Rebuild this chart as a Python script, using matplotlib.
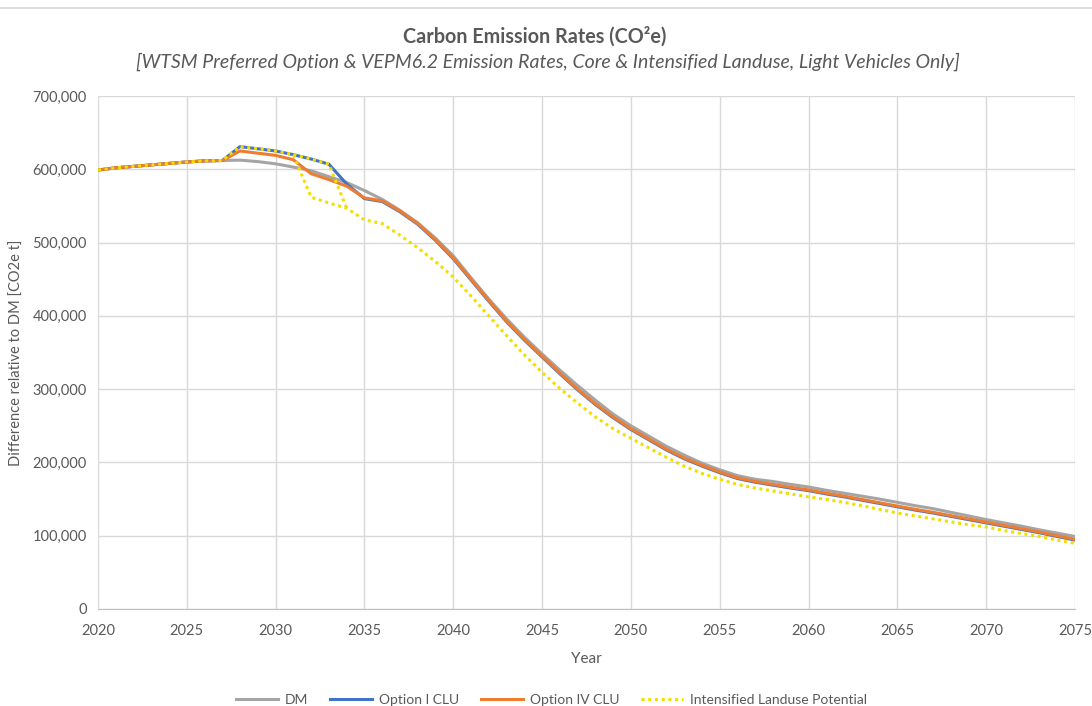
import matplotlib
matplotlib.use("Agg")
import matplotlib.pyplot as plt
from matplotlib.lines import Line2D
from matplotlib.ticker import FuncFormatter, MultipleLocator

plt.rcParams['font.family'] = ['Lato', 'DejaVu Sans']

# annual values, tonnes CO2e
years = list(range(2020, 2076))

dm = [599000, 602000, 604000, 606000, 608000, 610000, 611500, 612000, 612500, 610500,
      607500, 603000, 598000, 590000, 582000, 571000, 559000, 544000, 527000, 506000,
      482000, 452000, 423000, 396000, 371000, 348000, 326000, 305000, 285000, 266000,
      250000, 236000, 222000, 210000, 199000, 190000, 182000, 177000, 174000, 170000,
      166500, 162000, 158000, 154000, 150000, 145500, 141000, 137000, 132000, 127000,
      122000, 117500, 113000, 108000, 103500, 99000]

option_i = [599000, 602000, 604000, 606000, 608000, 610000, 611500, 612000, 631000, 628000,
            625000, 620000, 614000, 607000, 580000, 560000, 556000, 542000, 525000, 503000,
            478000, 449000, 420000, 392000, 367000, 344000, 321000, 299000, 279000, 261000,
            245000, 231000, 217000, 205000, 195000, 186000, 178000, 173000, 169000, 165000,
            161500, 157000, 153000, 148500, 144000, 139500, 135000, 131000, 126500, 122000,
            117500, 113000, 108500, 104000, 99000, 94000]

option_iv = [599000, 602000, 604000, 606000, 608000, 610000, 611500, 612000, 625000, 622000,
             619000, 613000, 594000, 586000, 577000, 561000, 557000, 543000, 526000, 504000,
             479000, 450000, 421000, 393000, 368000, 345000, 322000, 300000, 280000, 262000,
             246000, 232000, 218000, 206000, 196000, 187000, 179000, 174000, 170000, 166000,
             162500, 158000, 154000, 149500, 145000, 140500, 136000, 132000, 127500, 123000,
             118500, 114000, 109500, 105000, 100000, 95000]

intensified = [599000, 602000, 604000, 606000, 608000, 610000, 611500, 612000, 631000, 628000,
               625000, 620000, 562000, 554000, 547000, 531000, 526000, 510000, 493000, 474000,
               453000, 427000, 400000, 373000, 347000, 323000, 301000, 281000, 262000, 246000,
               233000, 220000, 207000, 195000, 185000, 177000, 170000, 165000, 161000, 157000,
               153000, 149500, 145500, 141000, 136000, 131000, 127000, 123000, 119000, 115000,
               112000, 107000, 103000, 99000, 94000, 89500]

# second intensified path that stays on the Option I curve until 2033
intensified_alt_years = [2031, 2032, 2033, 2034]
intensified_alt = [620000, 614000, 607000, 547000]

fig = plt.figure(figsize=(10.92, 7.06), dpi=100)
ax = fig.add_axes([0.0897, 0.1374, 0.8947, 0.7266])

ax.plot(years, dm, color='#A5A5A5', lw=2.2, label='DM', zorder=2)
ax.plot(years, option_i, color='#4472C4', lw=2.2, label='Option I CLU', zorder=3)
ax.plot(years, option_iv, color='#ED7D31', lw=2.2, label='Option IV CLU', zorder=4)
ax.plot(years, intensified, color='#F2DE00', lw=2.2, linestyle=(0, (1, 1.2)),
        label='Intensified Landuse Potential', zorder=5)
ax.plot(intensified_alt_years, intensified_alt, color='#F2DE00', lw=2.2,
        linestyle=(0, (1, 1.2)), zorder=5)

ax.set_xlim(2020, 2075)
ax.set_ylim(0, 700000)
ax.xaxis.set_major_locator(MultipleLocator(5))
ax.yaxis.set_major_locator(MultipleLocator(100000))
ax.yaxis.set_major_formatter(FuncFormatter(lambda v, p: f"{int(v):,}"))

ax.grid(True, color='#D9D9D9', lw=1)
ax.set_axisbelow(True)
for side in ['top', 'right', 'left']:
    ax.spines[side].set_visible(False)
ax.spines['bottom'].set_color('#BFBFBF')
ax.tick_params(axis='y', length=0, labelsize=10.5, colors='#595959', pad=8)
ax.tick_params(axis='x', length=0, labelsize=10.5, colors='#595959', pad=11)

ax.set_xlabel('Year', fontsize=11, color='#595959', labelpad=10)
ax.set_ylabel('Difference relative to DM [CO2e t]', fontsize=10.5, color='#595959', labelpad=6)

fig.text(0.49, 0.948, 'Carbon Emission Rates (CO²e)', ha='center', va='center',
         fontsize=14.2, fontweight='bold', color='#595959')
fig.text(0.502, 0.912,
         '[WTSM Preferred Option & VEPM6.2 Emission Rates, Core & Intensified Landuse, Light Vehicles Only]',
         ha='center', va='center', fontsize=14, style='italic', color='#595959')

fig.legend(loc='lower center', bbox_to_anchor=(0.505, -0.018), ncol=4, frameon=False,
           fontsize=10, handlelength=3.0, handletextpad=0.5, columnspacing=1.6,
           labelcolor='#595959')

# thin border line across the top of the chart area
fig.add_artist(Line2D([0, 1], [0.988, 0.988], color='#D9D9D9', lw=1.2))

fig.savefig('out.png', dpi=100)
